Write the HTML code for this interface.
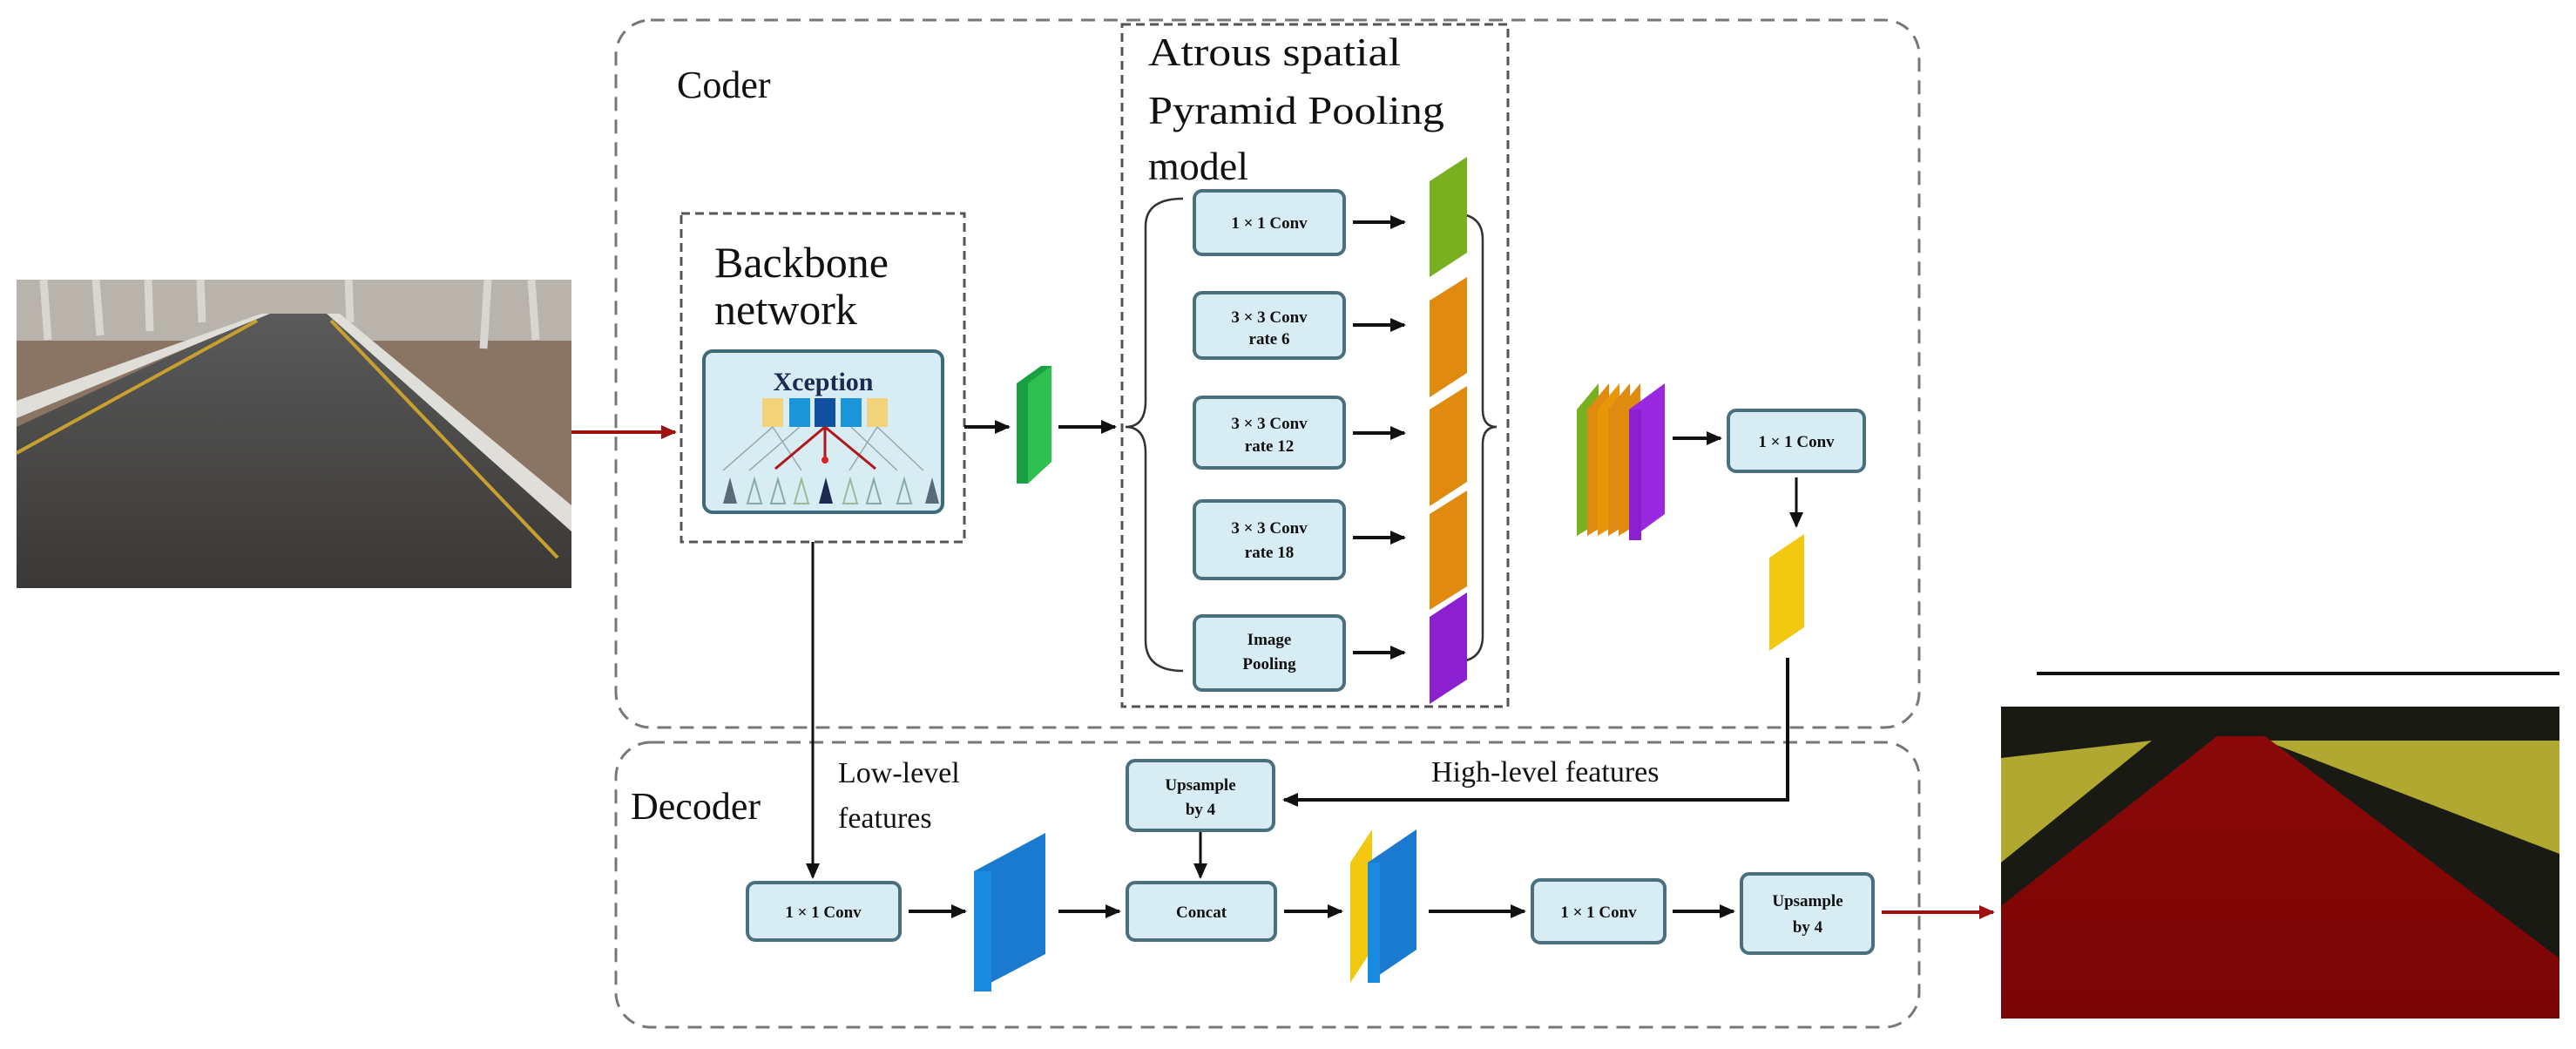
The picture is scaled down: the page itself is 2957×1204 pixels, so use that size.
<!DOCTYPE html>
<html><head><meta charset="utf-8"><style>
html,body{margin:0;padding:0;background:#fff;}
svg{display:block;}
text{font-family:"Liberation Serif",serif;fill:#111;}
.bt{font-family:"Liberation Serif",serif;font-weight:bold;font-size:19px;fill:#111;text-anchor:middle;}
</style></head><body>
<svg width="2957" height="1204" viewBox="0 0 2957 1204" xmlns="http://www.w3.org/2000/svg">
<defs>
<marker id="ah" markerWidth="20" markerHeight="20" refX="16" refY="10" orient="auto" markerUnits="userSpaceOnUse"><path d="M0,2 L18,10 L0,18 z" fill="#111"/></marker>
<marker id="ahr" markerWidth="20" markerHeight="20" refX="16" refY="10" orient="auto" markerUnits="userSpaceOnUse"><path d="M0,2 L18,10 L0,18 z" fill="#a01010"/></marker>
<linearGradient id="road" x1="0" y1="0" x2="0" y2="1"><stop offset="0" stop-color="#5a5a5a"/><stop offset="1" stop-color="#3a3836"/></linearGradient>
<linearGradient id="seg" x1="0" y1="0" x2="0" y2="1"><stop offset="0" stop-color="#8a0808"/><stop offset="1" stop-color="#7a0505"/></linearGradient>
</defs>

<!-- Input road image -->
<rect x="19" y="321" width="637" height="354" fill="#8a7464"/>
<rect x="19" y="321" width="637" height="70" fill="#b8b4ac"/>
<g stroke="#d8d6d0" stroke-width="9">
<line x1="50" y1="321" x2="55" y2="390"/><line x1="110" y1="321" x2="115" y2="385"/><line x1="170" y1="321" x2="172" y2="380"/><line x1="230" y1="321" x2="232" y2="370"/><line x1="400" y1="321" x2="402" y2="370"/><line x1="560" y1="321" x2="555" y2="400"/><line x1="610" y1="321" x2="615" y2="390"/>
</g>
<polygon points="300,360 380,360 656,610 656,675 19,675 19,490" fill="url(#road)"/>
<polygon points="300,360 310,360 19,480 19,460" fill="#e0ded8"/>
<polygon points="375,360 390,360 656,580 656,610" fill="#e0ded8"/>
<line x1="295" y1="368" x2="19" y2="520" stroke="#c8a030" stroke-width="4"/>
<line x1="380" y1="368" x2="640" y2="640" stroke="#c8a030" stroke-width="4"/>

<!-- Coder / Decoder outer boxes -->
<rect x="707" y="23" width="1496" height="812" rx="40" fill="none" stroke="#777" stroke-width="3" stroke-dasharray="16,10"/>
<rect x="707" y="852" width="1496" height="327" rx="40" fill="none" stroke="#777" stroke-width="3" stroke-dasharray="16,10"/>
<text x="777" y="112" font-size="44">Coder</text>
<text x="724" y="940" font-size="44">Decoder</text>

<!-- Backbone -->
<rect x="782" y="245" width="325" height="377" fill="none" stroke="#555" stroke-width="3" stroke-dasharray="10,6"/>
<text x="820" y="318" font-size="50">Backbone</text>
<text x="820" y="372" font-size="50">network</text>
<rect x="808" y="403" width="274" height="185" rx="10" fill="#d8ecf4" stroke="#3c6a7a" stroke-width="4"/>
<text x="945" y="448" font-size="30" font-weight="bold" text-anchor="middle" style="fill:#1a2a50">Xception</text>
<rect x="875" y="457" width="24" height="33" fill="#f2d27a"/>
<rect x="906" y="457" width="24" height="33" fill="#1a96d8"/>
<rect x="935" y="457" width="24" height="33" fill="#1050a0"/>
<rect x="965" y="457" width="24" height="33" fill="#1a96d8"/>
<rect x="995" y="457" width="24" height="33" fill="#f2d27a"/>
<g stroke="#9aa8b0" stroke-width="1.5">
<line x1="887" y1="490" x2="830" y2="540"/><line x1="918" y1="490" x2="860" y2="540"/><line x1="977" y1="490" x2="1030" y2="540"/><line x1="1007" y1="490" x2="1060" y2="540"/><line x1="887" y1="490" x2="920" y2="540"/><line x1="1007" y1="490" x2="975" y2="540"/>
</g>
<g stroke="#b01818" stroke-width="3"><line x1="947" y1="490" x2="890" y2="538"/><line x1="947" y1="490" x2="1005" y2="538"/><line x1="947" y1="490" x2="947" y2="530"/></g>
<circle cx="947" cy="528" r="4" fill="#e02020"/>
<g fill="#5a6a78">
<path d="M830,578 l8,-30 l8,30z"/><path d="M1062,578 l8,-30 l8,30z"/><path d="M940,578 l8,-30 l8,30z" fill="#1a2a50"/>
</g>
<g fill="none" stroke="#8aa" stroke-width="2">
<path d="M858,578 l8,-28 l8,28z"/><path d="M885,578 l8,-28 l8,28z"/><path d="M912,578 l8,-28 l8,28z" stroke="#9b9"/><path d="M968,578 l8,-28 l8,28z" stroke="#9b9"/><path d="M995,578 l8,-28 l8,28z"/><path d="M1030,578 l8,-28 l8,28z"/>
</g>

<!-- Red input arrow -->
<line x1="656" y1="496" x2="775" y2="496" stroke="#a01010" stroke-width="4" marker-end="url(#ahr)"/>

<!-- Arrow to green block -->
<line x1="1107" y1="490" x2="1158" y2="490" stroke="#111" stroke-width="4" marker-end="url(#ah)"/>
<polygon points="1167,440 1195,420 1207,420 1207,530 1180,555 1167,555" fill="#1aa040"/>
<polygon points="1180,440 1207,420 1207,530 1180,555" fill="#30c050"/>
<line x1="1215" y1="490" x2="1280" y2="490" stroke="#111" stroke-width="4" marker-end="url(#ah)"/>

<!-- ASPP -->
<rect x="1288" y="28" width="443" height="783" fill="none" stroke="#555" stroke-width="3" stroke-dasharray="10,6"/>
<text x="1318" y="75" font-size="46" textLength="290" lengthAdjust="spacingAndGlyphs">Atrous spatial</text>
<text x="1318" y="142" font-size="46" textLength="340" lengthAdjust="spacingAndGlyphs">Pyramid Pooling</text>
<text x="1318" y="206" font-size="46">model</text>
<path d="M1358,228 Q1315,228 1315,260 L1315,460 Q1315,490 1292,490 Q1315,490 1315,520 L1315,735 Q1315,770 1358,770" fill="none" stroke="#333" stroke-width="2.5"/>
<path d="M1668,245 Q1702,245 1702,275 L1702,470 Q1702,490 1718,490 Q1702,490 1702,510 L1702,730 Q1702,760 1668,760" fill="none" stroke="#333" stroke-width="2.5"/>

<g fill="#d8ecf4" stroke="#4a7080" stroke-width="4">
<rect x="1371" y="219" width="172" height="73" rx="9"/>
<rect x="1371" y="336" width="172" height="75" rx="9"/>
<rect x="1371" y="456" width="172" height="81" rx="9"/>
<rect x="1371" y="575" width="172" height="89" rx="9"/>
<rect x="1371" y="707" width="172" height="85" rx="9"/>
</g>
<text class="bt" x="1457" y="262">1 × 1 Conv</text>
<text class="bt" x="1457" y="370">3 × 3 Conv</text><text class="bt" x="1457" y="395">rate 6</text>
<text class="bt" x="1457" y="492">3 × 3 Conv</text><text class="bt" x="1457" y="518">rate 12</text>
<text class="bt" x="1457" y="612">3 × 3 Conv</text><text class="bt" x="1457" y="640">rate 18</text>
<text class="bt" x="1457" y="740">Image</text><text class="bt" x="1457" y="768">Pooling</text>

<g stroke="#111" stroke-width="4">
<line x1="1553" y1="255" x2="1612" y2="255" marker-end="url(#ah)"/>
<line x1="1553" y1="373" x2="1612" y2="373" marker-end="url(#ah)"/>
<line x1="1553" y1="497" x2="1612" y2="497" marker-end="url(#ah)"/>
<line x1="1553" y1="617" x2="1612" y2="617" marker-end="url(#ah)"/>
<line x1="1553" y1="749" x2="1612" y2="749" marker-end="url(#ah)"/>
</g>
<polygon points="1641,208 1684,180 1684,290 1641,318" fill="#78b020"/>
<polygon points="1641,345 1684,318 1684,428 1641,456" fill="#e08a10"/>
<polygon points="1641,470 1684,443 1684,553 1641,581" fill="#e08a10"/>
<polygon points="1641,590 1684,563 1684,673 1641,700" fill="#e08a10"/>
<polygon points="1641,708 1684,680 1684,780 1641,808" fill="#8a20d0"/>

<!-- concat stack -->
<polygon points="1810,470 1835,440 1835,600 1810,615" fill="#78b020"/>
<polygon points="1822,470 1847,440 1847,600 1822,615" fill="#e08a10"/>
<polygon points="1834,470 1859,440 1859,600 1834,615" fill="#e8960a"/>
<polygon points="1846,470 1871,440 1871,600 1846,615" fill="#e08a10"/>
<polygon points="1858,470 1883,440 1883,600 1858,615" fill="#e08a10"/>
<polygon points="1870,470 1911,440 1911,590 1870,620" fill="#9a28e0"/>
<rect x="1870" y="470" width="14" height="150" fill="#8a20d0"/>
<line x1="1920" y1="503" x2="1975" y2="503" stroke="#111" stroke-width="4" marker-end="url(#ah)"/>
<rect x="1984" y="471" width="156" height="70" rx="9" fill="#d8ecf4" stroke="#4a7080" stroke-width="4"/>
<text class="bt" x="2062" y="513">1 × 1 Conv</text>
<line x1="2062" y1="548" x2="2062" y2="604" stroke="#111" stroke-width="3" marker-end="url(#ah)"/>
<polygon points="2031,640 2071,613 2071,720 2031,747" fill="#f2c810"/>

<!-- High-level features path -->
<polyline points="2052,755 2052,918 1474,918" fill="none" stroke="#111" stroke-width="4" marker-end="url(#ah)"/>
<text x="1643" y="897" font-size="34">High-level features</text>

<!-- Low-level path -->
<line x1="933" y1="622" x2="933" y2="1007" stroke="#111" stroke-width="3" marker-end="url(#ah)"/>
<text x="962" y="898" font-size="34">Low-level</text>
<text x="962" y="950" font-size="34">features</text>

<!-- Decoder components -->
<g fill="#d8ecf4" stroke="#4a7080" stroke-width="4">
<rect x="1294" y="873" width="168" height="80" rx="9"/>
<rect x="858" y="1013" width="175" height="66" rx="9"/>
<rect x="1294" y="1013" width="170" height="66" rx="9"/>
<rect x="1759" y="1010" width="152" height="72" rx="9"/>
<rect x="1999" y="1003" width="151" height="91" rx="9"/>
</g>
<text class="bt" x="1378" y="907">Upsample</text><text class="bt" x="1378" y="935">by 4</text>
<text class="bt" x="945" y="1053">1 × 1 Conv</text>
<text class="bt" x="1379" y="1053">Concat</text>
<text class="bt" x="1835" y="1053">1 × 1 Conv</text>
<text class="bt" x="2075" y="1040">Upsample</text><text class="bt" x="2075" y="1070">by 4</text>
<line x1="1378" y1="955" x2="1378" y2="1007" stroke="#111" stroke-width="3" marker-end="url(#ah)"/>

<polygon points="1118,1000 1200,956 1200,1095 1118,1138" fill="#1a7ad0"/>
<rect x="1118" y="1000" width="20" height="138" fill="#1a8ae0"/>
<polygon points="1550,990 1575,952 1575,1090 1550,1128" fill="#f2c810"/>
<polygon points="1570,990 1626,952 1626,1090 1570,1128" fill="#1a7ad0"/>
<rect x="1570" y="990" width="14" height="138" fill="#1a8ae0"/>

<g stroke="#111" stroke-width="4">
<line x1="1043" y1="1046" x2="1108" y2="1046" marker-end="url(#ah)"/>
<line x1="1215" y1="1046" x2="1285" y2="1046" marker-end="url(#ah)"/>
<line x1="1474" y1="1046" x2="1540" y2="1046" marker-end="url(#ah)"/>
<line x1="1640" y1="1046" x2="1750" y2="1046" marker-end="url(#ah)"/>
<line x1="1920" y1="1046" x2="1990" y2="1046" marker-end="url(#ah)"/>
</g>
<line x1="2160" y1="1047" x2="2288" y2="1047" stroke="#a01010" stroke-width="4" marker-end="url(#ahr)"/>

<!-- Output segmentation -->
<line x1="2338" y1="773" x2="2938" y2="773" stroke="#111" stroke-width="4"/>
<rect x="2297" y="811" width="641" height="358" fill="#1a1a14"/>
<polygon points="2297,870 2470,850 2297,990" fill="#b0a830"/>
<polygon points="2600,850 2938,850 2938,980" fill="#b0a830"/>
<polygon points="2545,845 2600,845 2938,1100 2938,1169 2297,1169 2297,1040" fill="url(#seg)"/>
</svg>
</body></html>
